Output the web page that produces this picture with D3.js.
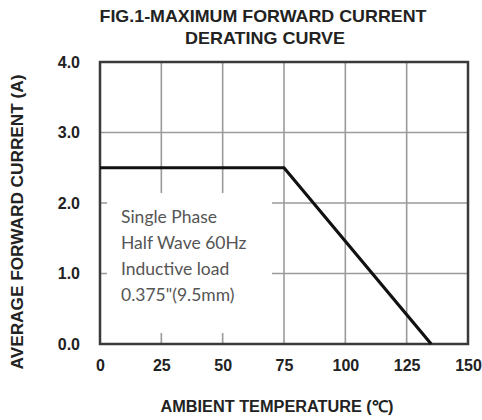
<!DOCTYPE html>
<html><head><meta charset="utf-8">
<script src="https://cdn.jsdelivr.net/npm/d3@7"></script>
<style>body{margin:0;background:#fff}svg{display:block}</style>
</head><body>
<script>
const temps = [0, 75, 135];
const currents = [2.5, 2.5, 0];
const xTicks = [0, 25, 50, 75, 100, 125, 150];
const yTicks = [0, 1, 2, 3, 4];
const yTickLabels = ["0.0", "1.0", "2.0", "3.0", "4.0"];
const titleLines = ["FIG.1-MAXIMUM FORWARD CURRENT", "DERATING CURVE"];
const xTitle = "AMBIENT TEMPERATURE (\u2103)";
const yTitle = "AVERAGE FORWARD CURRENT (A)";
const noteLines = ["Single Phase", "Half Wave 60Hz", "Inductive load", "0.375\"(9.5mm)"];

const W = 482, H = 420;
const svg = d3.select("body").append("svg").attr("width", W).attr("height", H);
const x = d3.scaleLinear().domain([0, 150]).range([100, 468]);
const y = d3.scaleLinear().domain([0, 4]).range([344, 62]);

// grid
svg.append("g").selectAll("line").data(xTicks.slice(1, -1)).join("line")
  .attr("x1", d => x(d)).attr("x2", d => x(d)).attr("y1", y(4)).attr("y2", y(0))
  .attr("stroke", "#9a9a9a").attr("stroke-width", 1.6);
svg.append("g").selectAll("line").data(yTicks.slice(1, -1)).join("line")
  .attr("x1", x(0)).attr("x2", x(150)).attr("y1", d => y(d)).attr("y2", d => y(d))
  .attr("stroke", "#9a9a9a").attr("stroke-width", 1.6);

// note box (white background hides grid)
svg.append("rect").attr("x", 107).attr("y", 193).attr("width", 165).attr("height", 140).attr("fill", "#fff");
svg.append("g").selectAll("text").data(noteLines).join("text")
  .attr("x", 121).attr("y", (d, i) => 223 + i * 26)
  .attr("font-family", "Lato, 'Open Sans', sans-serif").attr("font-size", 17.5)
  .attr("fill", "#555").text(d => d);

// frame
svg.append("rect").attr("x", x(0)).attr("y", y(4)).attr("width", x(150) - x(0)).attr("height", y(0) - y(4))
  .attr("fill", "none").attr("stroke", "#3a3a3a").attr("stroke-width", 2.5);

// curve
svg.append("path").datum(temps.map((t, i) => [t, currents[i]]))
  .attr("d", d3.line().x(d => x(d[0])).y(d => y(d[1])))
  .attr("fill", "none").attr("stroke", "#111").attr("stroke-width", 3.2);

// axes labels
const xAxis = d3.axisBottom(x).tickValues(xTicks).tickSize(0).tickPadding(16).tickFormat(d3.format("d"));
const gx = svg.append("g").attr("transform", `translate(0,${y(0)})`).call(xAxis);
gx.select(".domain").remove();
gx.selectAll("text").attr("font-family", "'Liberation Sans', Arial, sans-serif").attr("font-size", 16)
  .attr("font-weight", "bold").attr("fill", "#222");

const yAxis = d3.axisLeft(y).tickValues(yTicks).tickSize(0).tickPadding(20).tickFormat((d, i) => yTickLabels[i]);
const gy = svg.append("g").attr("transform", `translate(${x(0)},0)`).call(yAxis);
gy.select(".domain").remove();
gy.selectAll("text").attr("font-family", "'Liberation Sans', Arial, sans-serif").attr("font-size", 16)
  .attr("font-weight", "bold").attr("fill", "#222");

// titles
const tf = "'Liberation Sans', Arial, sans-serif";
svg.append("text").attr("x", 263).attr("y", 22).attr("text-anchor", "middle")
  .attr("font-family", tf).attr("font-weight", "bold").attr("font-size", 17).attr("fill", "#222")
  .attr("textLength", 327).attr("lengthAdjust", "spacingAndGlyphs").text(titleLines[0]);
svg.append("text").attr("x", 265).attr("y", 44).attr("text-anchor", "middle")
  .attr("font-family", tf).attr("font-weight", "bold").attr("font-size", 17).attr("fill", "#222")
  .attr("textLength", 160).attr("lengthAdjust", "spacingAndGlyphs").text(titleLines[1]);
svg.append("text").attr("x", 277).attr("y", 412).attr("text-anchor", "middle")
  .attr("font-family", tf).attr("font-weight", "bold").attr("font-size", 16).attr("fill", "#222")
  .attr("textLength", 233).attr("lengthAdjust", "spacingAndGlyphs").text(xTitle);
svg.append("text").attr("transform", "translate(23,222) rotate(-90)").attr("text-anchor", "middle")
  .attr("font-family", tf).attr("font-weight", "bold").attr("font-size", 16).attr("fill", "#222")
  .attr("textLength", 295).attr("lengthAdjust", "spacingAndGlyphs").text(yTitle);
</script>
</body></html>
